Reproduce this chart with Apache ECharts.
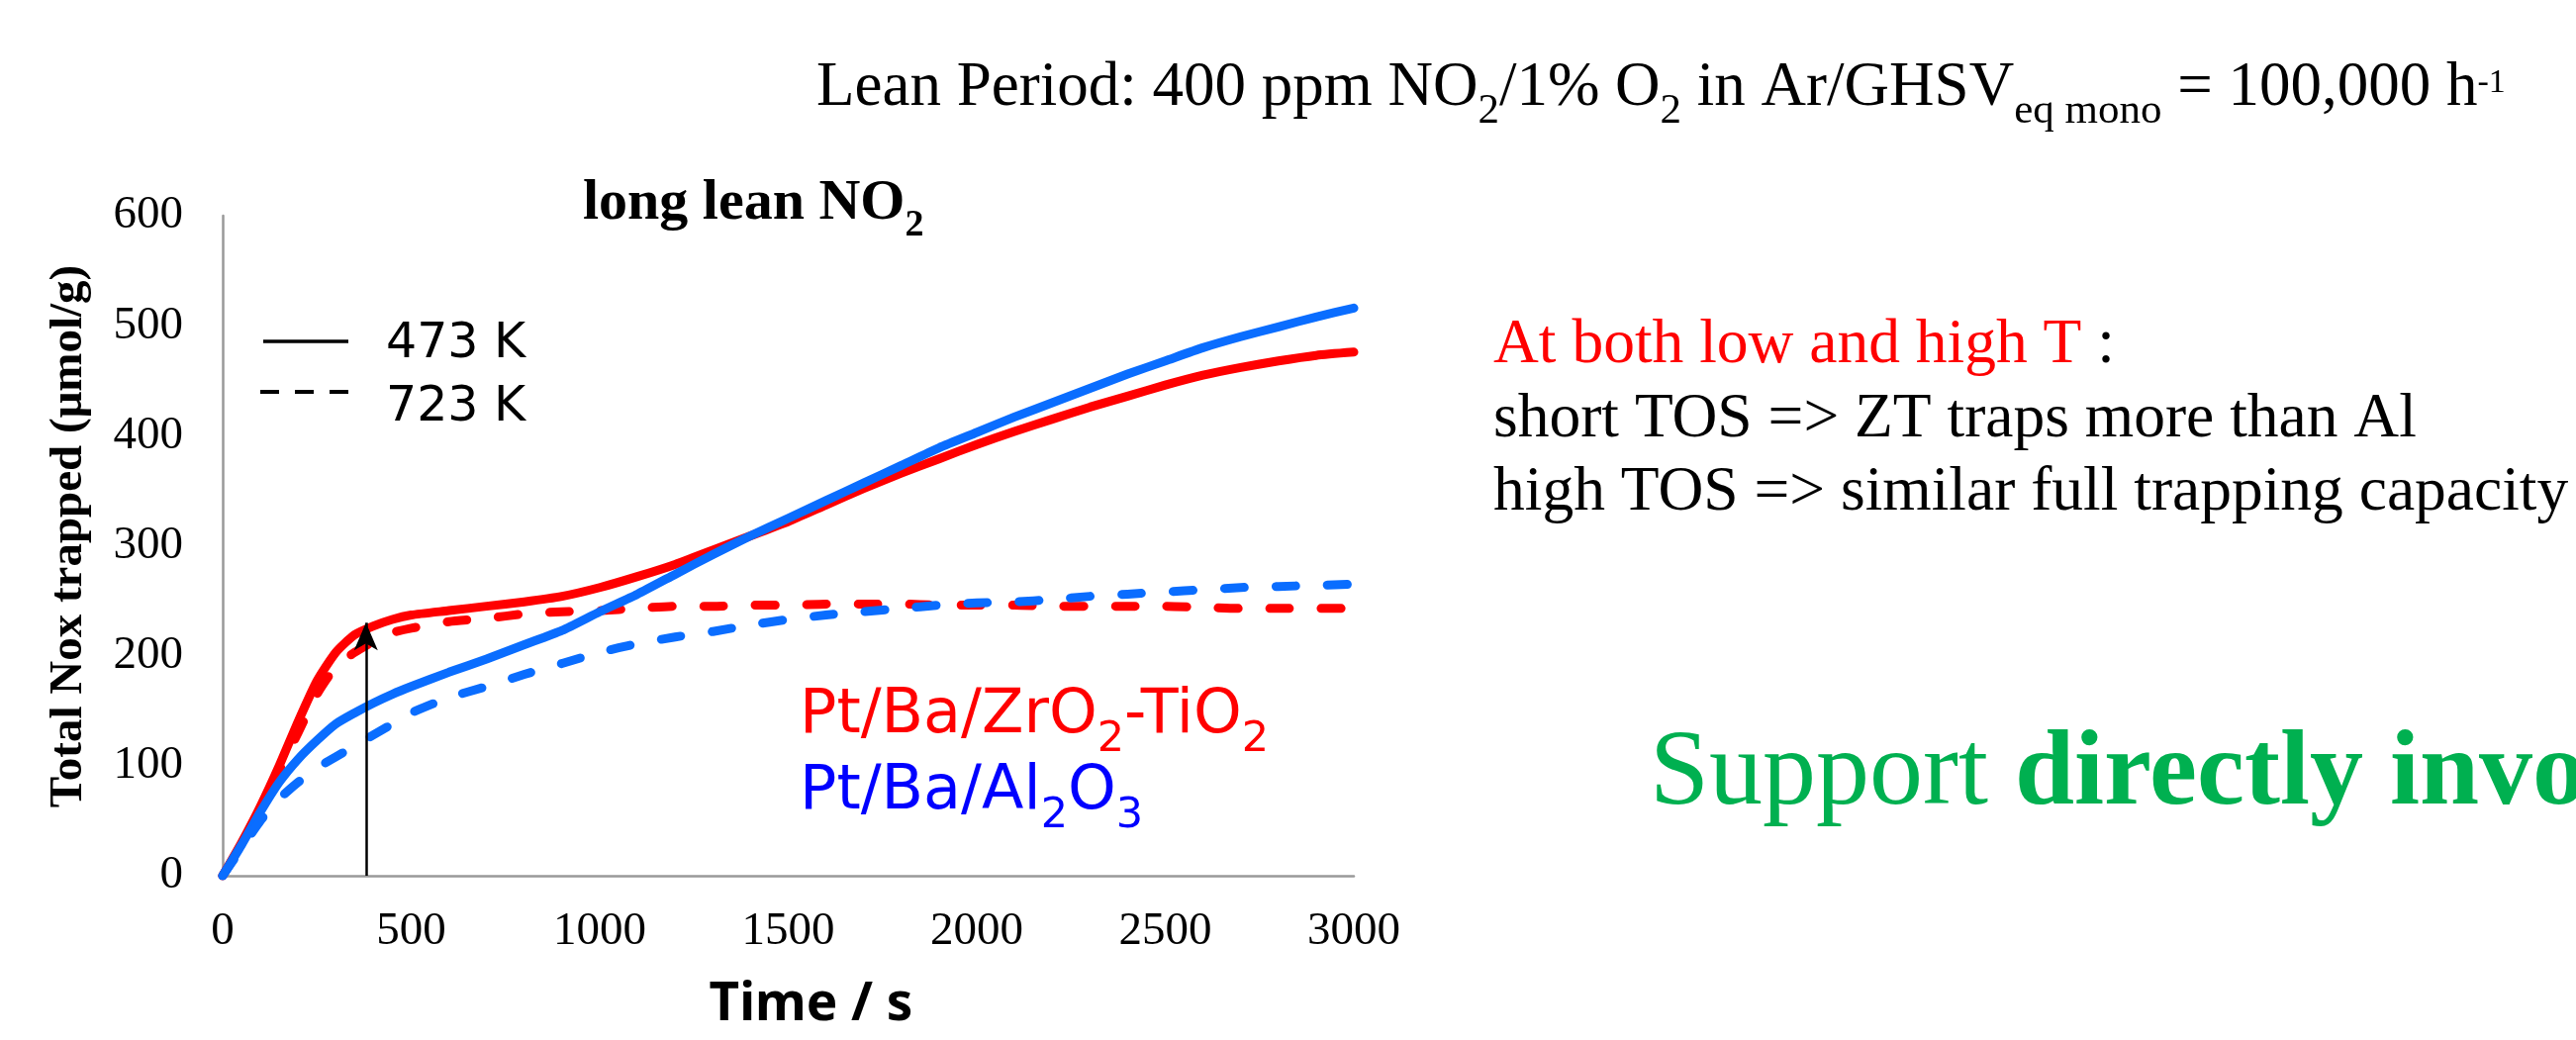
<!DOCTYPE html>
<html>
<head>
<meta charset="utf-8">
<script src="https://cdn.jsdelivr.net/npm/echarts@6/dist/echarts.min.js"></script>
<style>
html,body{margin:0;padding:0;background:#fff;}
#c{width:2603px;height:1051px;}
</style>
</head>
<body>
<div id="c"></div>
<script>
// ---- data ----
var timeS = [0,50,100,150,200,250,300,350,400,450,500,600,700,800,900,1000,1100,1200,1300,1400,1500,1600,1700,1800,1900,2000,2100,2200,2300,2400,2500,2600,2700,2800,2900,3000];
var zt473 = [0,30,63,100,140,177,203,219,227,233,237,241,245,249,254,262,272,283,296,309,322,337,352,366,379,392,404,415,426,436,446,455,462,468,473,476];
var zt723 = [0,28,60,95,130,165,190,203,213,221,225,231,234,238,240,241,243,245,245,246,246,247,247,247,246,246,246,245,245,245,245,244,243,243,243,243];
var al473 = [0,28,58,85,106,123,138,148,157,165,172,185,197,210,223,240,256,274,292,309,325,341,357,373,389,403,417,430,443,456,468,480,490,499,508,516];
var al723 = [0,25,50,70,85,98,108,118,128,138,148,162,172,183,193,203,211,217,222,228,233,237,240,243,246,248,249,251,254,256,258,260,262,263,264,265];
var xTicks = [0,500,1000,1500,2000,2500,3000];
var yTicks = [0,100,200,300,400,500,600];
var arrowAt = [380, 0, 230]; // time, from value, to value

function pairs(v){ return timeS.map(function(t,i){ return [t, v[i]]; }); }

var SERIF = '"Liberation Serif", "Times New Roman", serif';
var SANS = '"DejaVu Sans", sans-serif';
var RED = '#ff0000', BLUE = '#0a6dff', DBLUE = '#0000ff', GREEN = '#00b050';

var chart = echarts.init(document.getElementById('c'), null, {renderer:'canvas'});

function lineSeries(name, data, color, dashed){
  return {
    type:'line', name:name, data:pairs(data), showSymbol:false, symbol:'none',
    smooth:0.2, animation:false, silent:true,
    lineStyle:{color:color, width:9, cap:'round', join:'round', type: dashed ? [20,32] : 'solid'}
  };
}

var s1 = lineSeries('ZrO2-TiO2 473 K', zt473, RED, false);
s1.markLine = {
  silent:true, animation:false, symbol:['none','arrow'], symbolSize:[18,28],
  label:{show:false}, emphasis:{disabled:true},
  lineStyle:{color:'#000', width:2.5, type:'solid'},
  data:[[{coord:[arrowAt[0], arrowAt[1]]},{coord:[arrowAt[0], arrowAt[2]]}]]
};

var option = {
  animation:false,
  backgroundColor:'#fff',
  grid:{left:225, top:218, width:1143, height:667, containLabel:false},
  xAxis:{
    type:'value', min:0, max:3000, interval:500,
    name:'Time / s', nameLocation:'middle', nameGap:104,
    nameTextStyle:{fontFamily:'"Noto Sans", sans-serif', fontWeight:'bold', fontSize:53, color:'#000', padding:[0,0,0,46]},
    axisLine:{show:true, lineStyle:{color:'#999', width:2.5}},
    axisTick:{show:false}, splitLine:{show:false},
    axisLabel:{fontFamily:SERIF, fontSize:47, color:'#000', margin:33,
      formatter:function(v){ return xTicks.indexOf(v) >= 0 ? String(v) : ''; }}
  },
  yAxis:{
    type:'value', min:0, max:600, interval:100,
    name:'Total Nox trapped (μmol/g)', nameLocation:'middle', nameGap:132,
    nameTextStyle:{fontFamily:SERIF, fontWeight:'bold', fontSize:47, color:'#000', padding:[0,0,0,19]},
    axisLine:{show:true, lineStyle:{color:'#999', width:2.5}},
    axisTick:{show:false}, splitLine:{show:false},
    axisLabel:{fontFamily:SERIF, fontSize:47, color:'#000', margin:40,
      formatter:function(v){ return yTicks.indexOf(v) >= 0 ? String(v) : ''; }}
  },
  series:[
    s1,
    lineSeries('ZrO2-TiO2 723 K', zt723, RED, true),
    lineSeries('Al2O3 473 K', al473, BLUE, false),
    lineSeries('Al2O3 723 K', al723, BLUE, true)
  ],
  graphic:[
    // title
    {type:'text', x:825, y:89, silent:true, style:{
      align:'left', verticalAlign:'middle', fill:'#000',
      text:'{m|Lean Period: 400 ppm NO}{s|2}{m|/1% O}{s|2}{m| in Ar/GHSV}{s|eq mono}{m| = 100,000 h}{p|-1}',
      rich:{
        m:{fontFamily:SERIF, fontSize:63, lineHeight:70, fill:'#000'},
        s:{fontFamily:SERIF, fontSize:43, lineHeight:22, height:22, verticalAlign:'bottom', fill:'#000'},
        p:{fontFamily:SERIF, fontSize:34, lineHeight:60, height:60, verticalAlign:'top', fill:'#000'}
      }}},
    // long lean NO2
    {type:'text', x:589, y:206, silent:true, style:{
      align:'left', verticalAlign:'middle', fill:'#000',
      text:'{m|long lean NO}{s|2}',
      rich:{
        m:{fontFamily:SERIF, fontWeight:'bold', fontSize:58, lineHeight:66, fill:'#000'},
        s:{fontFamily:SERIF, fontWeight:'bold', fontSize:38, lineHeight:22, height:22, verticalAlign:'bottom', fill:'#000'}
      }}},
    // temperature key
    {type:'line', silent:true, shape:{x1:266, y1:345, x2:352, y2:345}, style:{stroke:'#000', lineWidth:3.5}},
    {type:'line', silent:true, shape:{x1:263, y1:396, x2:352, y2:396}, style:{stroke:'#000', lineWidth:4, lineDash:[19,16]}},
    {type:'text', x:390, y:348, silent:true, style:{text:'473 K', fontFamily:SANS, fontSize:49, fill:'#000', align:'left', verticalAlign:'middle'}},
    {type:'text', x:390, y:412, silent:true, style:{text:'723 K', fontFamily:SANS, fontSize:49, fill:'#000', align:'left', verticalAlign:'middle'}},
    // catalyst labels
    {type:'text', x:808, y:724, silent:true, style:{
      align:'left', verticalAlign:'middle', fill:RED,
      text:'{m|Pt/Ba/ZrO}{s|2}{m|-TiO}{s|2}',
      rich:{
        m:{fontFamily:SANS, fontSize:62, lineHeight:72, fill:RED},
        s:{fontFamily:SANS, fontSize:43, lineHeight:25, height:25, verticalAlign:'bottom', fill:RED}
      }}},
    {type:'text', x:808, y:801, silent:true, style:{
      align:'left', verticalAlign:'middle', fill:DBLUE,
      text:'{m|Pt/Ba/Al}{s|2}{m|O}{s|3}',
      rich:{
        m:{fontFamily:SANS, fontSize:62, lineHeight:72, fill:DBLUE},
        s:{fontFamily:SANS, fontSize:43, lineHeight:25, height:25, verticalAlign:'bottom', fill:DBLUE}
      }}},
    // right-hand notes
    {type:'text', x:1509, y:349, silent:true, style:{
      align:'left', verticalAlign:'middle',
      text:'{r|At both low and high T}{k| :}',
      rich:{ r:{fontFamily:SERIF, fontSize:63.5, fill:RED}, k:{fontFamily:SERIF, fontSize:63.5, fill:'#000'} }}},
    {type:'text', x:1509, y:424, silent:true, style:{text:'short TOS => ZT traps more than Al', fontFamily:SERIF, fontSize:63.5, fill:'#000', align:'left', verticalAlign:'middle'}},
    {type:'text', x:1509, y:498, silent:true, style:{text:'high TOS => similar full trapping capacity', fontFamily:SERIF, fontSize:63.5, fill:'#000', align:'left', verticalAlign:'middle'}},
    {type:'text', x:1667, y:784, silent:true, style:{
      align:'left', verticalAlign:'middle',
      text:'{a|Support }{b|directly involved}',
      rich:{ a:{fontFamily:SERIF, fontSize:108, fill:GREEN}, b:{fontFamily:SERIF, fontSize:108, fontWeight:'bold', fill:GREEN} }}}
  ]
};
chart.setOption(option);
</script>
</body>
</html>
